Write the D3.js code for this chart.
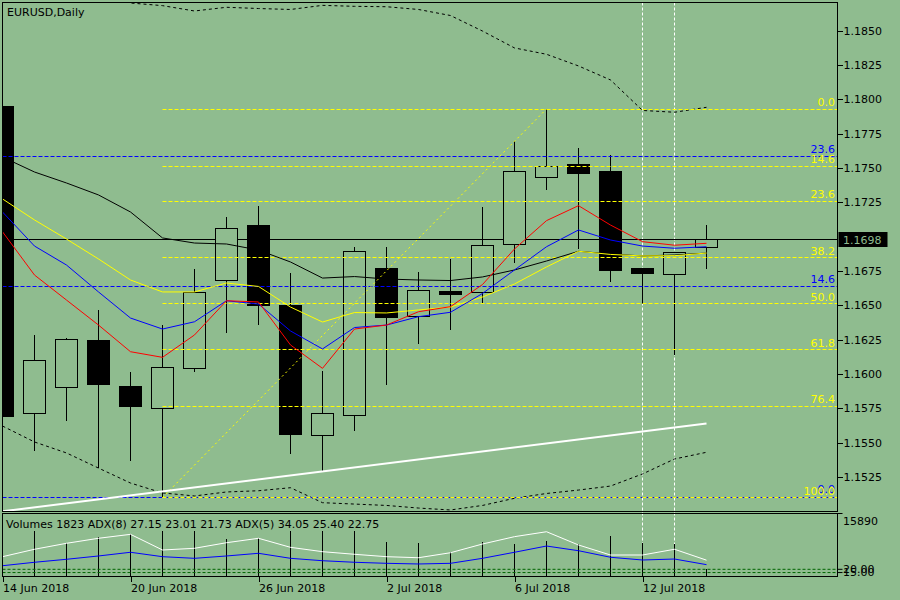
<!DOCTYPE html>
<html>
<head>
<meta charset="utf-8">
<script src="https://cdn.jsdelivr.net/npm/d3@7"></script>
<style>
  body { margin: 0; background: #8fbc8f; }
  svg { display: block; font-family: "DejaVu Sans", sans-serif; font-size: 11px; }
</style>
</head>
<body>
<div id="chart"></div>
<script>
/* CONSTANTS AND GLOBALS */
const width = 900,
  height = 600,
  main = { left: 2.5, right: 837.5, top: 2.5, bottom: 511.5 },
  sub = { top: 513.5, bottom: 576.5 },
  bg = "#8fbc8f";

/* DATA */
const title = "EURUSD,Daily";
const subTitle = "Volumes 1823 ADX(8) 27.15 23.01 21.73 ADX(5) 34.05 25.40 22.75";

const dates = ["2018-06-14", "2018-06-15", "2018-06-18", "2018-06-19", "2018-06-20", "2018-06-21",
  "2018-06-22", "2018-06-25", "2018-06-26", "2018-06-27", "2018-06-28", "2018-06-29", "2018-07-02",
  "2018-07-03", "2018-07-04", "2018-07-05", "2018-07-06", "2018-07-09", "2018-07-10", "2018-07-11",
  "2018-07-12", "2018-07-13", "2018-07-16"];

const open = [1.1795, 1.15714, 1.1590, 1.16245, 1.15912, 1.1575, 1.16038, 1.16682, 1.17077, 1.16495,
  1.15553, 1.15699, 1.16769, 1.16415, 1.16602, 1.16594, 1.16944, 1.17431, 1.17528, 1.17477,
  1.16764, 1.16725, 1.16922];
const high = [1.1852, 1.16284, 1.1626, 1.16463, 1.16014, 1.16356, 1.16764, 1.17142, 1.17223, 1.16735,
  1.16021, 1.16924, 1.16924, 1.1674, 1.16839, 1.17215, 1.17696, 1.17929, 1.17645, 1.17594,
  1.16764, 1.16886, 1.17084];
const low = [1.1562, 1.15441, 1.1566, 1.15313, 1.15369, 1.15101, 1.16016, 1.163, 1.16356, 1.15417,
  1.15286, 1.15587, 1.15922, 1.1622, 1.16322, 1.16511, 1.1681, 1.17341, 1.16912, 1.16669,
  1.16511, 1.16138, 1.16764];
const close = [1.1569, 1.16099, 1.16252, 1.15922, 1.15762, 1.16048, 1.16594, 1.1706, 1.16497, 1.15556,
  1.15714, 1.16893, 1.16409, 1.16609, 1.16577, 1.16936, 1.17475, 1.17512, 1.17458, 1.16752,
  1.1673, 1.16886, 1.1698];

// moving averages
const maBlack = [1.17579, 1.1747, 1.1739, 1.17303, 1.17179, 1.1699, 1.16953, 1.16946, 1.16902, 1.16815,
  1.16698, 1.16709, 1.16691, 1.16684, 1.1668, 1.16706, 1.16757, 1.16822, 1.16893, 1.16873,
  1.16859, 1.16866, 1.1688];
const maYellow = [1.17274, 1.17121, 1.16982, 1.16837, 1.16684, 1.16597, 1.16597, 1.16662, 1.16637, 1.16487,
  1.16378, 1.16447, 1.16444, 1.16466, 1.16487, 1.1656, 1.16655, 1.16779, 1.16893, 1.1687,
  1.16859, 1.16861, 1.1688];
const maBlue = [1.17179, 1.16931, 1.16793, 1.16597, 1.16407, 1.16327, 1.1638, 1.16533, 1.16509, 1.16313,
  1.16182, 1.16338, 1.16356, 1.16417, 1.16449, 1.16586, 1.16757, 1.16926, 1.17048, 1.16975,
  1.16931, 1.16915, 1.16926];
const maRed = [1.17035, 1.1672, 1.16538, 1.16356, 1.16162, 1.16121, 1.16284, 1.16533, 1.16524, 1.16211,
  1.16041, 1.16327, 1.16356, 1.16453, 1.1649, 1.16651, 1.1691, 1.17116, 1.17225, 1.17084,
  1.16963, 1.16937, 1.16951];

// bands
const bandUpper = [1.19159, 1.19013, 1.18904, 1.18795, 1.18700, 1.18681, 1.18642, 1.18669, 1.1866, 1.18653,
  1.18683, 1.18676, 1.18673, 1.18653, 1.18609, 1.18496, 1.18373, 1.18327, 1.18242, 1.1814,
  1.17918, 1.17905, 1.17941];
const bandLower = [1.15621, 1.15505, 1.15425, 1.15315, 1.15206, 1.15134, 1.15112, 1.15141, 1.1515, 1.15172,
  1.15063, 1.15053, 1.15043, 1.15024, 1.1501, 1.15043, 1.15095, 1.1513, 1.15155, 1.15184,
  1.15272, 1.15381, 1.1543];

// sub window
const volumes = [15890, 13900, 8248, 9761, 10518, 12400, 12100, 9257, 9660, 12800, 11800, 12600, 8500,
  8248, 5978, 8500, 8071, 8828, 8071, 10165, 8248, 8071, 1823];
const adxWhite = [39.4, 50.8, 60.0, 67.7, 73.8, 49.7, 52.3, 60.9, 67.7, 53.8, 47.1, 43.1, 39.4, 37.8,
  45.5, 58.9, 70.2, 77.8, 57.4, 42.0, 42.0, 50.8, 34.05];
const adxBlue = [25.5, 30.8, 35.4, 40.5, 46.2, 39.4, 36.9, 40.5, 44.6, 36.9, 33.2, 30.8, 29.2, 28.2,
  29.2, 36.9, 46.2, 55.8, 48.6, 38.5, 34.3, 35.8, 27.15];
const adxLevels = [20, 15];
const volMax = 15890;

// axes and objects
const priceTicks = [1.1525, 1.1550, 1.1575, 1.1600, 1.1625, 1.1650, 1.1675, 1.1725, 1.1750, 1.1775,
  1.1800, 1.1825, 1.1850];
const dateTickIdx = [0, 4, 8, 12, 16, 20];
const lastPrice = 1.1698;
const fibLevels = [0, 14.6, 23.6, 38.2, 50, 61.8, 76.4, 100];
const fibA = { fromIdx: 5, toIdx: 17 };          // 21 Jun low -> 9 Jul high
const fibB = { base: 1.15107, range: 0.1050 };   // anchors off-screen to the left
const trendIdx = [0, 22], trendPrice = [1.1500, 1.1564];
const vLineIdx = [20, 21];

/* SCALES */
const xScale = d3.scaleLinear().domain([0, dates.length - 1]).range([2.5, 706.5]);
const yScale = d3.scaleLinear().domain([1.1525, 1.1850]).range([477, 30.5]);
const yVol = d3.scaleLinear().domain([0, volMax]).range([576, 513]);
const yAdx = d3.scaleLinear().domain([0, 100]).range([582.3, 517.3]);

const parseDate = d3.timeParse("%Y-%m-%d");
const fmtDate = d3.timeFormat("%-d %b %Y");

/* SVG */
const svg = d3.select("#chart").append("svg")
  .attr("width", width)
  .attr("height", height);

svg.append("rect").attr("width", width).attr("height", height).attr("fill", bg);

const defs = svg.append("defs");
defs.append("clipPath").attr("id", "clip-main").append("rect")
  .attr("x", main.left).attr("y", main.top)
  .attr("width", main.right - main.left).attr("height", main.bottom - main.top);
defs.append("clipPath").attr("id", "clip-sub").append("rect")
  .attr("x", main.left).attr("y", sub.top)
  .attr("width", main.right - main.left).attr("height", sub.bottom - sub.top);
// label strip of the sub window hides the tops of the volume bars
defs.append("clipPath").attr("id", "clip-bars").append("rect")
  .attr("x", main.left).attr("y", 531)
  .attr("width", main.right - main.left).attr("height", sub.bottom - 531);

const lineGen = d3.line().x((d, i) => xScale(i)).y(d => yScale(d));

/* VERTICAL MARKERS (behind candles) */
svg.append("g")
  .selectAll("line")
  .data(vLineIdx)
  .join("line")
  .attr("x1", d => xScale(d)).attr("x2", d => xScale(d))
  .attr("y1", main.top).attr("y2", sub.bottom)
  .attr("stroke", "#fff")
  .attr("stroke-dasharray", "3,2");

const plot = svg.append("g").attr("clip-path", "url(#clip-main)");

// current price line
plot.append("line")
  .attr("x1", main.left).attr("x2", main.right)
  .attr("y1", Math.round(yScale(lastPrice)) + 0.5).attr("y2", Math.round(yScale(lastPrice)) + 0.5)
  .attr("stroke", "#000");

/* CANDLES */
const candles = dates.map((d, i) => ({ i, o: open[i], h: high[i], l: low[i], c: close[i] }));

const cg = plot.append("g").attr("shape-rendering", "crispEdges");
cg.selectAll(".wick")
  .data(candles)
  .join("line")
  .attr("class", "wick")
  .attr("x1", d => xScale(d.i)).attr("x2", d => xScale(d.i))
  .attr("y1", d => yScale(d.h)).attr("y2", d => yScale(d.l))
  .attr("stroke", "#000");
cg.selectAll(".body")
  .data(candles)
  .join("rect")
  .attr("class", "body")
  .attr("x", d => xScale(d.i) - 11)
  .attr("width", 22)
  .attr("y", d => yScale(Math.max(d.o, d.c)))
  .attr("height", d => Math.max(1, Math.abs(yScale(d.o) - yScale(d.c))))
  .attr("fill", d => d.c >= d.o ? bg : "#000")
  .attr("stroke", "#000");

/* BANDS */
[bandUpper, bandLower].forEach(b => {
  plot.append("path")
    .datum(b)
    .attr("d", lineGen)
    .attr("fill", "none")
    .attr("stroke", "#000")
    .attr("stroke-dasharray", "3,3");
});

/* FIBONACCI */
const fibAHigh = high[fibA.toIdx], fibALow = low[fibA.fromIdx];
const fmtLvl = d3.format(".1f");
const inView = d => yScale(d.p) > main.top + 12 && yScale(d.p) < main.bottom;

// set B (blue) full width
const fibBRows = fibLevels.map(l => ({ l, p: fibB.base + fibB.range * l / 100 })).filter(inView);
plot.append("g").selectAll("line")
  .data(fibBRows)
  .join("line")
  .attr("x1", main.left).attr("x2", main.right)
  .attr("y1", d => Math.round(yScale(d.p)) + 0.5).attr("y2", d => Math.round(yScale(d.p)) + 0.5)
  .attr("stroke", "#0000ff")
  .attr("stroke-dasharray", "4,2");

// set A (yellow) from the swing low to the right edge
const fibARows = fibLevels.map(l => ({ l, p: fibAHigh - (fibAHigh - fibALow) * l / 100 })).filter(inView);
plot.append("g").selectAll("line")
  .data(fibARows)
  .join("line")
  .attr("x1", xScale(fibA.fromIdx)).attr("x2", main.right)
  .attr("y1", d => Math.round(yScale(d.p)) + 0.5).attr("y2", d => Math.round(yScale(d.p)) + 0.5)
  .attr("stroke", "#ffff00")
  .attr("stroke-dasharray", "4,2");

plot.append("line")
  .attr("x1", xScale(fibA.fromIdx)).attr("y1", yScale(fibALow))
  .attr("x2", xScale(fibA.toIdx)).attr("y2", yScale(fibAHigh))
  .attr("stroke", "#ffff00")
  .attr("stroke-dasharray", "2,3");

plot.append("g").selectAll("text")
  .data(fibBRows)
  .join("text")
  .attr("x", 835).attr("y", d => yScale(d.p) - 3.5)
  .attr("text-anchor", "end")
  .attr("fill", "#0000ff")
  .text(d => fmtLvl(d.l));
plot.append("g").selectAll("text")
  .data(fibARows)
  .join("text")
  .attr("x", 835).attr("y", d => yScale(d.p) - 2.5)
  .attr("text-anchor", "end")
  .attr("fill", "#ffff00")
  .text(d => fmtLvl(d.l));

/* TRENDLINE */
plot.append("line")
  .attr("x1", xScale(trendIdx[0])).attr("y1", yScale(trendPrice[0]))
  .attr("x2", xScale(trendIdx[1])).attr("y2", yScale(trendPrice[1]))
  .attr("stroke", "#fff")
  .attr("stroke-width", 2);

/* MOVING AVERAGES */
[[maBlack, "#000"], [maYellow, "#ffff00"], [maBlue, "#0000ff"], [maRed, "#ff0000"]].forEach(([s, col]) => {
  plot.append("path")
    .datum(s)
    .attr("d", lineGen)
    .attr("fill", "none")
    .attr("stroke", col)
    .attr("stroke-width", 1);
});

/* SUB WINDOW */
const subG = svg.append("g").attr("clip-path", "url(#clip-sub)");
subG.append("g")
  .attr("clip-path", "url(#clip-bars)")
  .attr("shape-rendering", "crispEdges")
  .selectAll("line")
  .data(volumes)
  .join("line")
  .attr("x1", (d, i) => xScale(i)).attr("x2", (d, i) => xScale(i))
  .attr("y1", yVol(0)).attr("y2", d => yVol(d))
  .attr("stroke", "#000");

subG.append("g").selectAll("line")
  .data(adxLevels)
  .join("line")
  .attr("x1", main.left).attr("x2", main.right)
  .attr("y1", d => yAdx(d)).attr("y2", d => yAdx(d))
  .attr("stroke", "#006400")
  .attr("stroke-dasharray", "3,2");

const adxLine = d3.line().x((d, i) => xScale(i)).y(d => yAdx(d));
[[adxWhite, "#fff"], [adxBlue, "#0000ff"]].forEach(([s, col]) => {
  subG.append("path")
    .datum(s)
    .attr("d", adxLine)
    .attr("fill", "none")
    .attr("stroke", col);
});

/* FRAMES */
svg.append("rect")
  .attr("x", main.left).attr("y", main.top)
  .attr("width", main.right - main.left).attr("height", main.bottom - main.top)
  .attr("fill", "none").attr("stroke", "#000").attr("shape-rendering", "crispEdges");
svg.append("rect")
  .attr("x", main.left).attr("y", sub.top)
  .attr("width", main.right - main.left).attr("height", sub.bottom - sub.top)
  .attr("fill", "none").attr("stroke", "#000").attr("shape-rendering", "crispEdges");

/* TEXT LABELS */
svg.append("text").attr("x", 7).attr("y", 15.5).attr("fill", "#000").text(title);
svg.append("text").attr("x", 6).attr("y", 527.5).attr("fill", "#000").text(subTitle);

/* PRICE AXIS */
const yAxis = d3.axisRight(yScale)
  .tickValues(priceTicks)
  .tickFormat(d3.format(".4f"))
  .tickSize(5)
  .tickPadding(1);
const yAxisG = svg.append("g")
  .attr("transform", `translate(${main.right},0)`)
  .attr("shape-rendering", "crispEdges")
  .call(yAxis);
yAxisG.select(".domain").remove();
yAxisG.selectAll("text").attr("font-family", "DejaVu Sans").attr("font-size", 11).attr("fill", "#000");

// current price tag
const yp = yScale(lastPrice);
svg.append("rect")
  .attr("x", 838.5).attr("y", Math.round(yp) - 7)
  .attr("width", 49).attr("height", 15)
  .attr("fill", "#000");
svg.append("text")
  .attr("x", 843).attr("y", yp + 4.5)
  .attr("fill", bg)
  .text(d3.format(".4f")(lastPrice));

// sub window scale
const subTicks = [{ y: sub.top, t: d3.format("d")(volMax), ty: 524.5 }]
  .concat(adxLevels.map(l => ({ y: yAdx(l), t: d3.format(".2f")(l), ty: yAdx(l) + 3.8 })));
const st = svg.append("g");
st.selectAll("line")
  .data(subTicks)
  .join("line")
  .attr("x1", main.right).attr("x2", main.right + 5)
  .attr("y1", d => d.y).attr("y2", d => d.y)
  .attr("stroke", "#000");
st.selectAll("text")
  .data(subTicks)
  .join("text")
  .attr("x", 843).attr("y", d => d.ty)
  .attr("fill", "#000")
  .text(d => d.t);

/* DATE AXIS */
const xAxis = d3.axisBottom(xScale)
  .tickValues(dateTickIdx)
  .tickFormat(i => fmtDate(parseDate(dates[i])))
  .tickSize(5)
  .tickPadding(3);
const xAxisG = svg.append("g")
  .attr("transform", `translate(0,${sub.bottom})`)
  .attr("shape-rendering", "crispEdges")
  .call(xAxis);
xAxisG.select(".domain").remove();
xAxisG.selectAll("text")
  .attr("text-anchor", "start")
  .attr("font-family", "DejaVu Sans").attr("font-size", 11).attr("fill", "#000");
</script>
</body>
</html>
